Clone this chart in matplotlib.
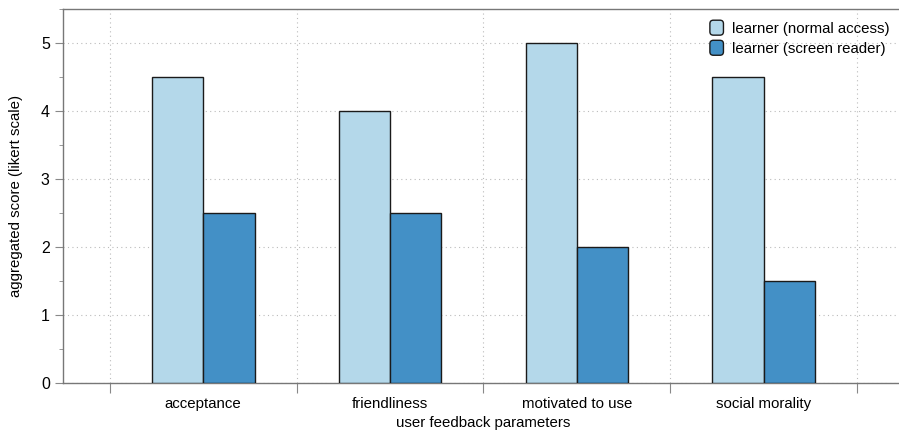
import numpy as np
import matplotlib
matplotlib.use("Agg")
import matplotlib.pyplot as plt
from matplotlib.ticker import MultipleLocator
from matplotlib.patches import FancyBboxPatch, Patch
from matplotlib.legend_handler import HandlerPatch

categories = ["acceptance", "friendliness", "motivated to use", "social morality"]
normal_access = [4.5, 4.0, 5.0, 4.5]
screen_reader = [2.5, 2.5, 2.0, 1.5]
series_labels = ["learner (normal access)", "learner (screen reader)"]
colors = ["#b4d8ea", "#4390c6"]

plt.rcParams["font.family"] = ["Liberation Sans", "DejaVu Sans"]
plt.rcParams["font.size"] = 10.8


class RoundedBox(HandlerPatch):
    # rounded square legend swatch
    def create_artists(self, legend, orig_handle, xdescent, ydescent,
                       width, height, fontsize, trans):
        s = min(width, height)
        p = FancyBboxPatch((xdescent + (width - s) / 2 + 1, -ydescent + 0.5),
                           s - 2, s - 1,
                           boxstyle="round,pad=0,rounding_size=2.5",
                           facecolor=orig_handle.get_facecolor(),
                           edgecolor="#1a1a1a", linewidth=1.0, transform=trans)
        return [p]


fig = plt.figure(figsize=(8.99, 4.33), dpi=100)
ax = fig.add_axes([63 / 899, 50 / 433, 841 / 899, 374 / 433])

x = np.arange(len(categories))
w = 0.275
ax.bar(x - w / 2, normal_access, w, color=colors[0], edgecolor="#1a1a1a",
       linewidth=1.0, zorder=3)
ax.bar(x + w / 2, screen_reader, w, color=colors[1], edgecolor="#1a1a1a",
       linewidth=1.0, zorder=3)

ax.set_xlim(-0.75, 3.75)
ax.set_ylim(0, 5.5)

# group boundaries as ticks, names as minor labels in the middle
ax.set_xticks(np.arange(-0.5, len(categories), 1.0))
ax.set_xticklabels([])
ax.set_xticks(x, minor=True)
ax.set_xticklabels(categories, minor=True)
ax.tick_params(axis="x", which="minor", length=0, pad=10, labelsize=10.8)
ax.tick_params(axis="x", which="major", length=7, direction="out", color="#888888")

ax.yaxis.set_major_locator(MultipleLocator(1))
ax.yaxis.set_minor_locator(MultipleLocator(0.5))
ax.tick_params(axis="y", which="major", length=6, color="#888888", labelsize=11.5)
ax.tick_params(axis="y", which="minor", length=3, color="#888888")

ax.grid(True, axis="y", which="major", linestyle=(0, (1, 3)), color="#bbbbbb", linewidth=0.8)
ax.grid(True, axis="x", which="major", linestyle=(0, (1, 3)), color="#bbbbbb", linewidth=0.8)

for s in ["left", "bottom", "top", "right"]:
    ax.spines[s].set_color("#777777")
    ax.spines[s].set_linewidth(1.0)

ax.set_xlabel("user feedback parameters", labelpad=4)
ax.set_ylabel("aggregated score (likert scale)", labelpad=13)

handles = [Patch(facecolor=c, edgecolor="#1a1a1a") for c in colors]
leg = ax.legend(handles, series_labels, loc="upper right", bbox_to_anchor=(0.995, 1.0),
                frameon=False, handlelength=1.2, handleheight=1.3,
                handletextpad=0.4, labelspacing=0.25, borderaxespad=0.3,
                handler_map={Patch: RoundedBox()})

fig.savefig("out.png", dpi=100)
